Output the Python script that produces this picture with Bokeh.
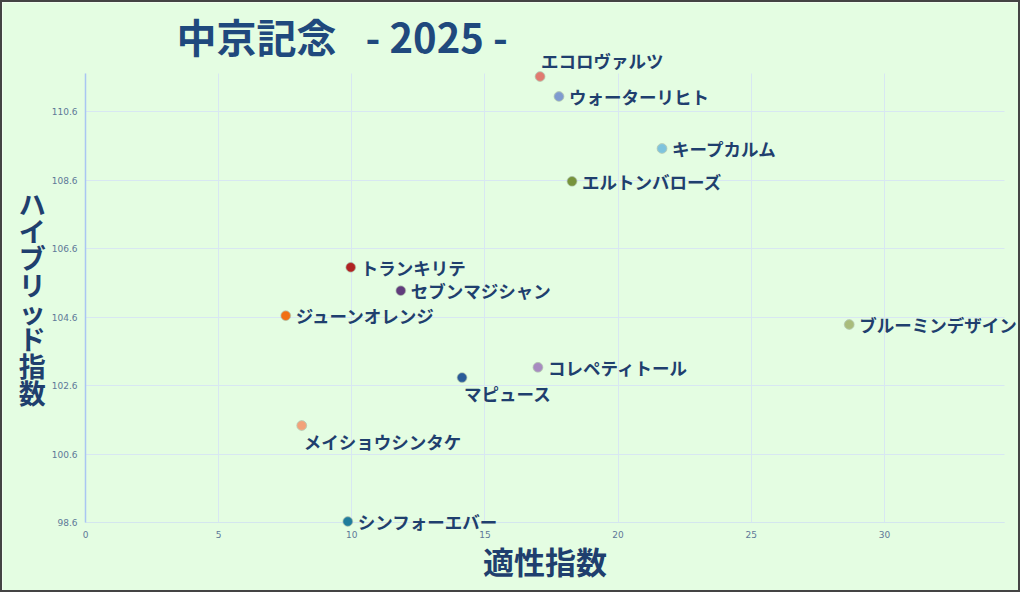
from bokeh.plotting import figure
from bokeh.models import ColumnDataSource, Label, FixedTicker, Range1d
from bokeh.core.properties import value
from bokeh.embed import file_html
from bokeh.resources import INLINE

# ---- data ----
title_text = "中京記念\u2002 - 2025 -"
x_title = "適性指数"
y_title = "ハイブリッド指数"

horses = ["エコロヴァルツ", "ウォーターリヒト", "キープカルム", "エルトンバローズ",
          "トランキリテ", "セブンマジシャン", "ジューンオレンジ", "ブルーミンデザイン",
          "コレペティトール", "マピュース", "メイショウシンタケ", "シンフォーエバー"]
aptitude = [17.07, 17.78, 21.65, 18.27, 9.96, 11.84, 7.52, 28.68, 16.99, 14.14, 8.12, 9.85]
hybrid = [111.62, 111.04, 109.52, 108.56, 106.05, 105.37, 104.64, 104.38, 103.13, 102.83, 101.43, 98.63]
colors = ["#E07A70", "#7F9BCF", "#7EC3DD", "#77933C", "#B02323", "#603C7C",
          "#F07014", "#A9BC7C", "#A78BC0", "#2A5B98", "#F2A27A", "#1F7C9C"]
label_pos = ["above", "right", "right", "right", "right", "right", "right",
             "right", "right", "below", "below", "right"]

x_ticks = [0, 5, 10, 15, 20, 25, 30]
y_ticks = [98.6, 100.6, 102.6, 104.6, 106.6, 108.6, 110.6]

# ---- layout ----
W, H = 1020, 592
AXIS_X_PX = 83       # canvas x of the y axis
AXIS_Y_PX = 520      # canvas y of the x axis
PX_X = 26.63
PX_Y = 34.25

BG = "#E4FDE2"
NAVY = "#1F3F6E"

x_axis_val = x_ticks[0]
y_axis_val = y_ticks[0]
x_start = x_axis_val - AXIS_X_PX / PX_X
x_end = x_axis_val + (W - AXIS_X_PX) / PX_X
y_start = y_axis_val - (H - AXIS_Y_PX) / PX_Y
y_end = y_axis_val + AXIS_Y_PX / PX_Y

p = figure(width=W, height=H, output_backend="svg", toolbar_location=None,
           x_range=Range1d(x_start, x_end), y_range=Range1d(y_start, y_end),
           min_border_left=0, min_border_right=0, min_border_top=0,
           min_border_bottom=0)
p.styles = {"border": "2px solid #444444"}
p.background_fill_color = BG
p.border_fill_color = BG
p.outline_line_color = None

x_max_axis = 34.5
y_max_axis = 111.71

p.xaxis.fixed_location = y_axis_val
p.yaxis.fixed_location = x_axis_val
p.xaxis.ticker = FixedTicker(ticks=x_ticks)
p.yaxis.ticker = FixedTicker(ticks=y_ticks)
p.xaxis.bounds = (x_axis_val, x_max_axis)
p.yaxis.bounds = (y_axis_val, y_max_axis)
for ax in (p.xaxis, p.yaxis):
    ax.major_tick_line_color = None
    ax.minor_tick_line_color = None
    ax.major_tick_out = 0
    ax.major_tick_in = 0
    ax.minor_tick_out = 0
    ax.major_label_text_font_size = "9px"
    ax.major_label_text_color = "#5E7898"
    ax.major_label_text_font = "DejaVu Sans"
    ax.axis_label_text_font = "Noto Sans CJK JP"
    ax.axis_label_text_font_style = "bold"
    ax.axis_label_text_color = NAVY
p.xaxis.axis_line_color = "#D4E6EE"
p.yaxis.axis_line_color = "#A9C6F2"
p.yaxis.axis_line_width = 1.5
p.xaxis.major_label_standoff = 8
p.yaxis.major_label_standoff = 8
p.yaxis.formatter.use_scientific = False

p.xaxis.axis_label = x_title
p.xaxis.axis_label_text_font_size = "31px"
p.xaxis.axis_label_standoff = -3

p.yaxis.axis_label = "\n".join(list(y_title))
p.yaxis.axis_label_orientation = "horizontal"
p.yaxis.axis_label_text_font_size = "27px"
p.yaxis.axis_label_text_line_height = 0.69
p.yaxis.axis_label_standoff = 3

p.xgrid.ticker = FixedTicker(ticks=x_ticks)
p.ygrid.ticker = FixedTicker(ticks=y_ticks)
p.xgrid.bounds = (x_axis_val, x_max_axis)
p.xgrid.cross_bounds = (y_axis_val, y_max_axis)
p.ygrid.bounds = (y_axis_val, y_max_axis)
p.ygrid.cross_bounds = (x_axis_val, x_max_axis)
p.grid.grid_line_color = "#D8E7F2"
p.grid.grid_line_width = 1

# offsets per label placement
off_map = {"right": (10, 0), "above": (1, -16), "below": (2, 16)}
xo = [off_map[k][0] for k in label_pos]
yo = [off_map[k][1] for k in label_pos]

src = ColumnDataSource(dict(x=aptitude, y=hybrid, name=horses, color=colors, xo=xo, yo=yo))

# soft shadow + points
p.scatter("x", "y", source=src, size=10, color="#000000", alpha=0.12, marker="circle",
          level="annotation")
p.scatter("x", "y", source=src, size=8.5, fill_color="color", line_color="color",
          line_alpha=0.6, marker="circle", level="annotation")

p.text("x", "y", text="name", source=src, x_offset="xo", y_offset="yo",
       text_font=value("Noto Sans CJK JP"), text_font_style="bold",
       text_font_size="17.5px", text_color=NAVY, text_baseline="middle",
       text_align="left", level="annotation")

# chart title
p.add_layout(Label(x=174, y=H - 33, x_units="screen", y_units="screen",
                   text=title_text, text_font="Noto Sans CJK JP",
                   text_font_style="bold", text_font_size="40px", text_color="#1F497D",
                   text_baseline="middle", text_align="left"))

open("out.html", "w").write(file_html(p, INLINE))
